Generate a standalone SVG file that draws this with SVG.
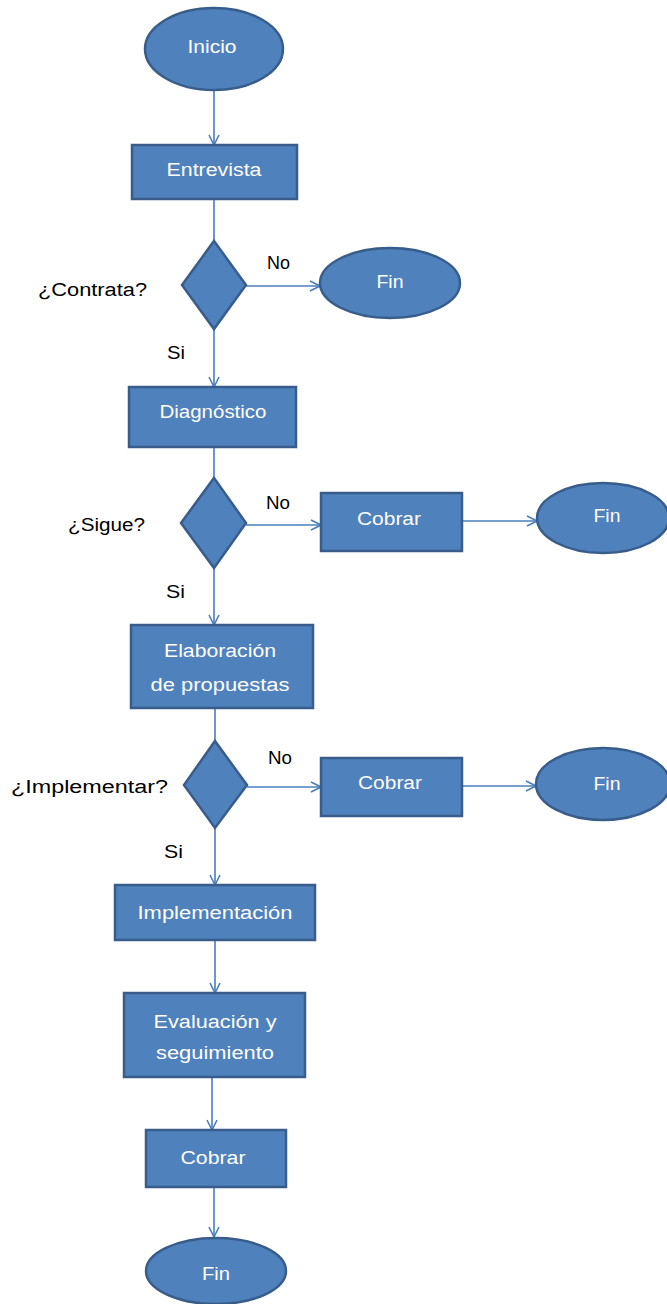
<svg xmlns="http://www.w3.org/2000/svg" width="667" height="1304" viewBox="0 0 667 1304">
<defs>
<marker id="arr" viewBox="0 0 12 12" refX="11" refY="6" markerWidth="12" markerHeight="12" markerUnits="userSpaceOnUse" orient="auto">
<path d="M1,1 L11,6 L1,11" fill="none" stroke="#4A7EBB" stroke-width="1.6"/>
</marker>
<style>
.shape{fill:#4F81BD;stroke:#385D8A;stroke-width:2.5}
.t{fill:#ffffff;font-family:"Liberation Sans","DejaVu Sans",sans-serif;font-size:18px;text-anchor:middle;dominant-baseline:central}
.lbl{fill:#000000;font-family:"Liberation Sans","DejaVu Sans",sans-serif;font-size:18px;dominant-baseline:central}
.c{fill:none;stroke:#4A7EBB;stroke-width:1.6;marker-end:url(#arr)}
</style>
</defs>
<rect width="667" height="1304" fill="#ffffff"/>
<g id="connectors">
<line class="c" x1="214" y1="90" x2="214" y2="145"/>
<line class="c" style="marker-end:none" x1="214" y1="199" x2="214" y2="241"/>
<line class="c" x1="246" y1="286" x2="320" y2="286"/>
<line class="c" x1="214" y1="329" x2="214" y2="387"/>
<line class="c" style="marker-end:none" x1="214" y1="447" x2="214" y2="478"/>
<line class="c" x1="246" y1="525" x2="321" y2="525"/>
<line class="c" x1="462" y1="521" x2="537" y2="521"/>
<line class="c" x1="214" y1="568" x2="214" y2="625"/>
<line class="c" style="marker-end:none" x1="215" y1="708" x2="215" y2="741"/>
<line class="c" x1="247" y1="787" x2="321" y2="787"/>
<line class="c" x1="462" y1="786" x2="536" y2="786"/>
<line class="c" x1="215" y1="828" x2="215" y2="885"/>
<line class="c" x1="215" y1="940" x2="215" y2="993"/>
<line class="c" x1="212" y1="1077" x2="212" y2="1130"/>
<line class="c" x1="214" y1="1187" x2="214" y2="1237"/>
</g>
<g id="inicio"><ellipse class="shape" cx="214" cy="49" rx="69" ry="41"/><text class="t" x="212" y="47" textLength="49" lengthAdjust="spacingAndGlyphs">Inicio</text></g>
<g id="entrevista"><rect class="shape" x="132" y="145" width="165" height="54"/><text class="t" x="214" y="170" textLength="95" lengthAdjust="spacingAndGlyphs">Entrevista</text></g>
<g id="d-contrata"><polygon class="shape" points="214,241 246,285 214,329 182,285"/></g>
<g id="fin1"><ellipse class="shape" cx="390" cy="283" rx="70" ry="35"/><text class="t" x="390" y="282" textLength="27" lengthAdjust="spacingAndGlyphs">Fin</text></g>
<g id="diagnostico"><rect class="shape" x="129" y="387" width="167" height="60"/><text class="t" x="213" y="412" textLength="107" lengthAdjust="spacingAndGlyphs">Diagnóstico</text></g>
<g id="d-sigue"><polygon class="shape" points="214,478 246,523 214,568 181,523"/></g>
<g id="cobrar1"><rect class="shape" x="321" y="493" width="141" height="58"/><text class="t" x="389" y="519" textLength="64" lengthAdjust="spacingAndGlyphs">Cobrar</text></g>
<g id="fin2"><ellipse class="shape" cx="603" cy="518" rx="66" ry="35"/><text class="t" x="607" y="516" textLength="27" lengthAdjust="spacingAndGlyphs">Fin</text></g>
<g id="elaboracion"><rect class="shape" x="131" y="625" width="182" height="83"/><text class="t" x="220" y="651" textLength="112" lengthAdjust="spacingAndGlyphs">Elaboración</text><text class="t" x="220" y="685" textLength="139" lengthAdjust="spacingAndGlyphs">de propuestas</text></g>
<g id="d-implementar"><polygon class="shape" points="215,741 247,785 215,828 184,785"/></g>
<g id="cobrar2"><rect class="shape" x="321" y="758" width="141" height="58"/><text class="t" x="390" y="783" textLength="64" lengthAdjust="spacingAndGlyphs">Cobrar</text></g>
<g id="fin3"><ellipse class="shape" cx="603" cy="784" rx="67" ry="36"/><text class="t" x="607" y="784" textLength="27" lengthAdjust="spacingAndGlyphs">Fin</text></g>
<g id="implementacion"><rect class="shape" x="115" y="885" width="200" height="55"/><text class="t" x="215" y="913" textLength="155" lengthAdjust="spacingAndGlyphs">Implementación</text></g>
<g id="evaluacion"><rect class="shape" x="124" y="993" width="181" height="84"/><text class="t" x="215" y="1022" textLength="123" lengthAdjust="spacingAndGlyphs">Evaluación  y</text><text class="t" x="215" y="1053" textLength="118" lengthAdjust="spacingAndGlyphs">seguimiento</text></g>
<g id="cobrar3"><rect class="shape" x="146" y="1130" width="140" height="57"/><text class="t" x="213" y="1158" textLength="65" lengthAdjust="spacingAndGlyphs">Cobrar</text></g>
<g id="fin4"><ellipse class="shape" cx="216" cy="1271" rx="70" ry="33"/><text class="t" x="216" y="1274" textLength="28" lengthAdjust="spacingAndGlyphs">Fin</text></g>
<g id="labels">
<text class="lbl" x="38" y="290" textLength="109" lengthAdjust="spacingAndGlyphs">¿Contrata?</text>
<text class="lbl" x="267" y="263" textLength="23" lengthAdjust="spacingAndGlyphs">No</text>
<text class="lbl" x="167" y="353" textLength="18" lengthAdjust="spacingAndGlyphs">Si</text>
<text class="lbl" x="68" y="525" textLength="77" lengthAdjust="spacingAndGlyphs">¿Sigue?</text>
<text class="lbl" x="266" y="503" textLength="24" lengthAdjust="spacingAndGlyphs">No</text>
<text class="lbl" x="166" y="592" textLength="19" lengthAdjust="spacingAndGlyphs">Si</text>
<text class="lbl" x="11" y="787" textLength="157" lengthAdjust="spacingAndGlyphs">¿Implementar?</text>
<text class="lbl" x="268" y="758" textLength="24" lengthAdjust="spacingAndGlyphs">No</text>
<text class="lbl" x="164" y="852" textLength="19" lengthAdjust="spacingAndGlyphs">Si</text>
</g>
</svg>
